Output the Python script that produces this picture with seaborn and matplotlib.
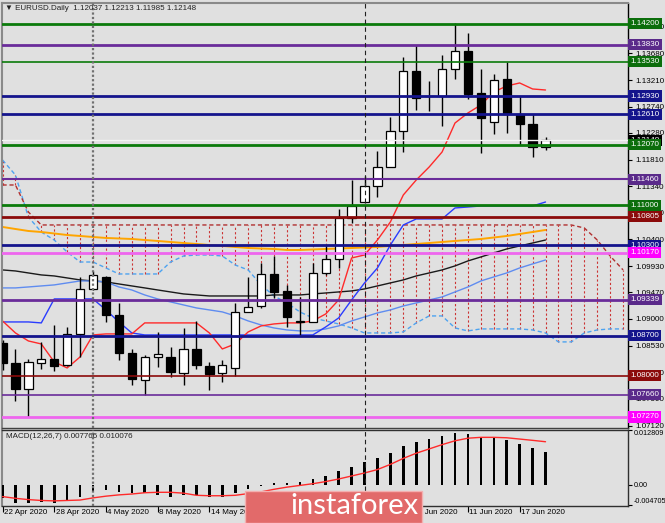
import numpy as np
import seaborn as sns
import matplotlib
matplotlib.use('Agg')
import matplotlib.pyplot as plt
import matplotlib.transforms as mtransforms
from matplotlib.patches import Rectangle

# ---- datos (velas diarias EURUSD, 22 abr - 19 jun 2020) ----
opens = [1.08575, 1.08228, 1.07769, 1.08228, 1.08287, 1.08182, 1.08734, 1.09527, 1.09733, 1.09069,
         1.08404, 1.07922, 1.08333, 1.08333, 1.08051, 1.08464, 1.08169, 1.08040, 1.08140, 1.09127,
         1.09227, 1.09786, 1.09497, 1.08950, 1.08950, 1.09804, 1.10051, 1.10774, 1.11056, 1.11343,
         1.11684, 1.12319, 1.13371, 1.12930, 1.12930, 1.13401, 1.13730, 1.12978, 1.12467, 1.13230,
         1.12613, 1.12431, 1.12037]
highs = [1.08620, 1.08469, 1.08287, 1.08598, 1.08892, 1.08863, 1.09744, 1.09845, 1.09750, 1.09280,
         1.08465, 1.08360, 1.08774, 1.08510, 1.08845, 1.08963, 1.08245, 1.08275, 1.09275, 1.09744,
         1.09980, 1.10110, 1.09598, 1.09392, 1.09980, 1.10303, 1.10933, 1.11449, 1.11520, 1.11966,
         1.12565, 1.13613, 1.13830, 1.13195, 1.13653, 1.14223, 1.14036, 1.13406, 1.13318, 1.13535,
         1.12930, 1.12608, 1.12213]
lows = [1.08100, 1.07552, 1.07275, 1.08111, 1.08081, 1.08170, 1.08333, 1.09510, 1.08950, 1.08275,
        1.07834, 1.07658, 1.08146, 1.07981, 1.07834, 1.08111, 1.07746, 1.07893, 1.07993, 1.09120,
        1.09190, 1.09363, 1.08862, 1.08716, 1.08940, 1.09770, 1.09892, 1.10686, 1.11040, 1.11144,
        1.11680, 1.11948, 1.12683, 1.12671, 1.12401, 1.13225, 1.12878, 1.11925, 1.12260, 1.12273,
        1.12066, 1.11860, 1.11985]
closes = [1.08222, 1.07755, 1.08240, 1.08287, 1.08169, 1.08734, 1.09522, 1.09774, 1.09069, 1.08393,
          1.07940, 1.08333, 1.08376, 1.08064, 1.08464, 1.08182, 1.08028, 1.08182, 1.09127, 1.09215,
          1.09786, 1.09480, 1.09028, 1.08955, 1.09804, 1.10051, 1.10774, 1.10991, 1.11343, 1.11684,
          1.12319, 1.13371, 1.12900, 1.12935, 1.13401, 1.13724, 1.12966, 1.12548, 1.13213, 1.12613,
          1.12431, 1.12036, 1.12148]

# indicadores (Ichimoku + medias), un valor por vela
tenkan = [1.08964, 1.08752, 1.08611, 1.08558, 1.08241, 1.08135, 1.08329, 1.08717, 1.08735, 1.08735,
          1.08735, 1.08929, 1.08929, 1.08929, 1.08929, 1.08929, 1.08752, 1.08470, 1.08558, 1.08770,
          1.08876, 1.08911, 1.08929, 1.08929, 1.08964, 1.09087, 1.09334, 1.10074, 1.10127, 1.10391,
          1.10709, 1.11185, 1.11449, 1.11678, 1.11943, 1.12454, 1.12631, 1.12772, 1.13001, 1.13107,
          1.13160, 1.13054, 1.13036]
kijun = [1.08946, 1.08946, 1.08946, 1.08929, 1.09352, 1.09352, 1.09352, 1.09352, 1.09158, 1.08946,
         1.08752, 1.08717, 1.08717, 1.08717, 1.08717, 1.08717, 1.08717, 1.08717, 1.08717, 1.08717,
         1.08717, 1.08717, 1.08717, 1.08717, 1.08717, 1.08858, 1.09017, 1.09334, 1.09634, 1.09898,
         1.10303, 1.10656, 1.10762, 1.10762, 1.10762, 1.10956, 1.10973, 1.10991, 1.10991, 1.10991,
         1.10991, 1.10991, 1.11061]
ma_blue = [1.09546, 1.09546, 1.09563, 1.09581, 1.09599, 1.09634, 1.09669, 1.09669, 1.09651, 1.09563,
           1.09510, 1.09422, 1.09352, 1.09299, 1.09246, 1.09193, 1.09158, 1.09123, 1.09052, 1.08964,
           1.08893, 1.08840, 1.08805, 1.08788, 1.08788, 1.08823, 1.08876, 1.08964, 1.09034, 1.09105,
           1.09158, 1.09228, 1.09281, 1.09334, 1.09387, 1.09475, 1.09563, 1.09669, 1.09740, 1.09810,
           1.09898, 1.09969, 1.10039]
ma_black = [1.09863, 1.09845, 1.09810, 1.09775, 1.09757, 1.09722, 1.09687, 1.09669, 1.09651, 1.09616,
            1.09581, 1.09546, 1.09510, 1.09475, 1.09440, 1.09422, 1.09404, 1.09404, 1.09404, 1.09404,
            1.09404, 1.09422, 1.09422, 1.09422, 1.09440, 1.09457, 1.09475, 1.09493, 1.09528, 1.09581,
            1.09634, 1.09687, 1.09757, 1.09810, 1.09863, 1.09934, 1.10022, 1.10092, 1.10163, 1.10233,
            1.10286, 1.10338, 1.10391]
ma_orange = [1.10621, 1.10585, 1.10550, 1.10532, 1.10506, 1.10479, 1.10462, 1.10444, 1.10427, 1.10418,
             1.10409, 1.10391, 1.10374, 1.10356, 1.10338, 1.10321, 1.10303, 1.10286, 1.10268, 1.10250,
             1.10241, 1.10233, 1.10215, 1.10215, 1.10224, 1.10233, 1.10241, 1.10250, 1.10259, 1.10268,
             1.10286, 1.10303, 1.10321, 1.10338, 1.10356, 1.10374, 1.10391, 1.10409, 1.10435, 1.10462,
             1.10497, 1.10532, 1.10568]
# nube (se extiende 6 velas mas alla de la ultima)
span_a = [1.11802, 1.11537, 1.10797, 1.10532, 1.10391, 1.10180, 1.10003, 1.10003, 1.09898, 1.09792,
          1.09792, 1.09792, 1.09792, 1.10003, 1.10109, 1.10127, 1.10127, 1.10109, 1.09950, 1.09863,
          1.09599, 1.09404, 1.09281, 1.09123, 1.09017, 1.08964, 1.08911, 1.08840, 1.08752, 1.08752,
          1.08752, 1.08770, 1.08929, 1.09052, 1.09052, 1.08840, 1.08788, 1.08823, 1.08823, 1.08823,
          1.08823, 1.08805, 1.08752, 1.08594, 1.08594, 1.08752, 1.08805, 1.08823, 1.08823]
span_b = [1.11361, 1.11361, 1.10885] + [1.10656] * 42 + [1.10603, 1.10391, 1.10109, 1.09863]

macd_hist = [-0.00310, -0.00412, -0.00412, -0.00389, -0.00412, -0.00349, -0.00272, -0.00140, -0.00116, -0.00156,
             -0.00193, -0.00193, -0.00233, -0.00272, -0.00233, -0.00233, -0.00272, -0.00272, -0.00193, -0.00100,
             -0.00023, 0.00040, 0.00054, 0.00077, 0.00133, 0.00210, 0.00333, 0.00412, 0.00543, 0.00622,
             0.00752, 0.00915, 0.01008, 0.01071, 0.01141, 0.01204, 0.01188, 0.01125, 0.01111, 0.01048,
             0.00955, 0.00869, 0.007766]
macd_signal = [-0.0027, -0.0031, -0.0034, -0.0036, -0.0037, -0.0036, -0.0035, -0.0030, -0.0026, -0.0023,
               -0.0021, -0.0018, -0.0017, -0.0017, -0.0019, -0.0024, -0.0025, -0.0025, -0.0024, -0.0020,
               -0.0016, -0.0010, -0.0005, -0.0001, 0.0003, 0.0008, 0.0014, 0.0021, 0.0028, 0.0036,
               0.0048, 0.0062, 0.0074, 0.0084, 0.0094, 0.0103, 0.0109, 0.0111, 0.0111, 0.0110,
               0.0107, 0.0104, 0.010076]

# niveles horizontales
level_values = [1.14200, 1.13830, 1.13530, 1.12930, 1.12610, 1.12070, 1.11460, 1.11000,
                1.10805, 1.10300, 1.10170, 1.09339, 1.08700, 1.08000, 1.07660, 1.07270]
level_colors = ['#0b7a0b', '#6a2c9a', '#0b7a0b', '#14148c', '#14148c', '#0b7a0b', '#6a2c9a', '#0b7a0b',
                '#8b0a0a', '#14148c', '#ee66ee', '#6a2c9a', '#14148c', '#8b0a0a', '#6a2c9a', '#ee66ee']
level_widths = [2, 2, 1.2, 2, 2, 2, 1.5, 2, 2, 2, 2, 2, 2, 1.2, 1.2, 2]
label_colors = ['#0b6e0b', '#5a2a8a', '#0b6e0b', '#14148c', '#14148c', '#0b6e0b', '#5a2a8a', '#0b6e0b',
                '#8b0a0a', '#14148c', '#ff00ff', '#5a2a8a', '#14148c', '#8b0a0a', '#5a2a8a', '#ff00ff']
bid_price = 1.12148

price_ticks = [1.07120, 1.07590, 1.08060, 1.08530, 1.09000, 1.09470, 1.09930, 1.10400,
               1.10870, 1.11340, 1.11810, 1.12280, 1.12740, 1.13210, 1.13680, 1.14150]
date_idx = [0, 4, 8, 12, 16, 20, 24, 28, 32, 36, 40]
date_labels = ['22 Apr 2020', '28 Apr 2020', '4 May 2020', '8 May 2020', '14 May 2020', '20 May 2020',
               '26 May 2020', '1 Jun 2020', '5 Jun 2020', '11 Jun 2020', '17 Jun 2020']
macd_ticks = [0.012809, 0.0, -0.004705]
macd_tick_labels = ['0.012809', '0.00', '-0.004705']

# ---- estilo ----
sns.set_style('white')
BG = '#e0e0e0'
FS = 5.8
plt.rcParams['font.family'] = ['Liberation Sans', 'DejaVu Sans']
plt.rcParams['axes.facecolor'] = BG

W, H = 665, 523
fig = plt.figure(figsize=(W / 100, H / 100), dpi=100, facecolor=BG)
ax = fig.add_axes([2 / W, 1 - 428 / H, 626 / W, 425 / H], facecolor=BG)
axm = fig.add_axes([2 / W, 1 - 506 / H, 626 / W, 76 / H], facecolor=BG, sharex=ax)

x = np.arange(len(opens))
xc = np.arange(len(span_a))
o, h, l, c = map(np.array, (opens, highs, lows, closes))

# nube ichimoku
lo_c = np.minimum(span_a, span_b)
hi_c = np.maximum(span_a, span_b)
ax.vlines(xc, lo_c, hi_c, colors='#cc3333', linestyles=(0, (2, 2)), lw=0.8, zorder=1)
ax.plot(xc, span_a, color='#4da3f0', lw=1, ls=(0, (3, 2)), zorder=1.5)
ax.plot(xc, span_b, color='#b03030', lw=1, ls=(0, (3, 2)), zorder=1.5)

# medias y lineas ichimoku
sns.lineplot(x=x, y=ma_orange, ax=ax, color='#ffa500', lw=1.4, zorder=2)
sns.lineplot(x=x, y=ma_black, ax=ax, color='#1a1a1a', lw=1, zorder=2)
sns.lineplot(x=x, y=ma_blue, ax=ax, color='#5f8cf0', lw=1, zorder=2)
sns.lineplot(x=x, y=kijun, ax=ax, color='#2a3cff', lw=1, zorder=2)
sns.lineplot(x=x, y=tenkan, ax=ax, color='#ff2a2a', lw=1, zorder=2)

# velas
ax.vlines(x, l, h, color='black', lw=1, zorder=3)
body_lo = np.minimum(o, c)
body_h = np.maximum(np.abs(c - o), 0.00002)
ax.bar(x, body_h, bottom=body_lo, width=0.64, color=np.where(c >= o, 'white', 'black'),
       edgecolor='black', linewidth=0.9, zorder=4)

# niveles
for v, col, lw in zip(level_values, level_colors, level_widths):
    ax.axhline(v, color=col, lw=lw, zorder=5)
ax.axhline(bid_price, color='#f4f4f4', lw=1, zorder=4.5)

# lineas verticales
for a in (ax, axm):
    a.axvline(7, color='#707070', lw=1.6, ls=(0, (1, 1)), zorder=6)
    a.axvline(28, color='#202020', lw=0.8, ls=(0, (4, 3)), zorder=6)

ax.set_xlim(-0.04, 48.38)
ax.set_ylim(1.07076, 1.14570)

# eje de precios
ax.yaxis.tick_right()
ax.set_yticks(price_ticks)
ax.set_yticklabels([f'{t:.5f}' for t in price_ticks])
ax.tick_params(axis='y', right=True, length=3, width=0.8, pad=2, labelsize=FS, colors='black')
ax.tick_params(axis='x', bottom=False, labelbottom=False)

trans = mtransforms.blended_transform_factory(ax.transAxes, ax.transData)
ax.text(1.004, bid_price, f'{bid_price:.5f}', transform=trans, ha='left', va='center', fontsize=FS,
        color='white', bbox=dict(boxstyle='square,pad=0.25', fc='black', ec='none'), clip_on=False, zorder=9)
for v, col in zip(level_values, label_colors):
    ax.text(1.004, v, f'{v:.5f}', transform=trans, ha='left', va='center', fontsize=FS, color='white',
            bbox=dict(boxstyle='square,pad=0.25', fc=col, ec='none'), clip_on=False, zorder=10)

for side in ('left', 'top'):
    ax.spines[side].set_color('#8a8a8a')
    ax.spines[side].set_linewidth(1.5)
ax.spines['right'].set_color('black')
ax.spines['right'].set_linewidth(1)
ax.spines['bottom'].set_color('#404040')
ax.spines['bottom'].set_linewidth(1)

# MACD
axm.bar(x, macd_hist, width=0.2, color='black', edgecolor='black', linewidth=0, zorder=3)
sns.lineplot(x=x, y=macd_signal, ax=axm, color='#ff2a2a', lw=1, zorder=4)
axm.set_ylim(-0.00489, 0.012809)
axm.yaxis.tick_right()
axm.set_yticks(macd_ticks)
axm.set_yticklabels(macd_tick_labels)
axm.tick_params(axis='y', right=True, length=3, width=0.8, pad=1.2, labelsize=5.2, colors='black')
for lab, va in zip(axm.get_yticklabels(), ['top', 'center', 'bottom']):
    lab.set_va(va)
axm.set_xticks(date_idx)
axm.set_xticklabels([])
axm.tick_params(axis='x', bottom=True, length=4, width=0.8, colors='black')
axm.spines['left'].set_color('#8a8a8a')
axm.spines['left'].set_linewidth(1.5)
for side in ('top', 'right', 'bottom'):
    axm.spines[side].set_color('#303030')
    axm.spines[side].set_linewidth(1)

dtrans = mtransforms.blended_transform_factory(axm.transData, fig.transFigure)
for i, lab in zip(date_idx, date_labels):
    axm.text(i + 0.12, 1 - 513 / H, lab, transform=dtrans, ha='left', va='center', fontsize=FS,
             color='black', clip_on=False)

fig.text(5 / W, 1 - 9 / H, '\u25bc EURUSD.Daily  1.12037 1.12213 1.11985 1.12148', fontsize=FS,
         va='center', ha='left', color='#202020')
fig.text(6 / W, 1 - 437 / H, 'MACD(12,26,7) 0.007766 0.010076', fontsize=FS, va='center', ha='left',
         color='#202020')

# marca de agua
fig.patches.append(Rectangle((245 / W, 0), 177 / W, 32 / H, transform=fig.transFigure,
                             fc='#e26a6a', ec='#f3b0b0', lw=1, zorder=20))
fig.text(290 / W, 1 - 514 / H, 'instaforex', fontsize=21, color='white', va='baseline', ha='left',
         family=['Lato', 'DejaVu Sans'], zorder=21)

fig.savefig('out.png', dpi=100, facecolor=BG)
